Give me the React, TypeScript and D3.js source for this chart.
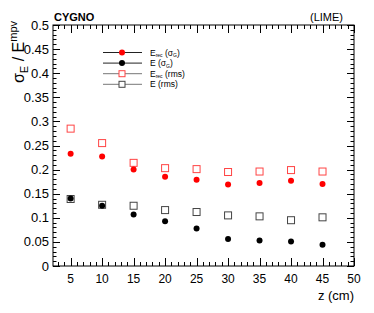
import * as d3 from "d3";
import React, { useEffect, useRef } from "react";

const W = 374;
const H = 313;
const M = { left: 53, right: 20, top: 25, bottom: 47 };

const zValues = [5, 10, 15, 20, 25, 30, 35, 40, 45];
const recGauss = [0.233, 0.227, 0.2, 0.185, 0.179, 0.169, 0.172, 0.177, 0.17];
const eGauss = [0.14, 0.125, 0.107, 0.093, 0.078, 0.056, 0.053, 0.051, 0.044];
const recRms = [0.285, 0.255, 0.214, 0.203, 0.201, 0.195, 0.196, 0.199, 0.196];
const eRms = [0.139, 0.127, 0.125, 0.116, 0.112, 0.105, 0.103, 0.095, 0.101];
const errGauss = [0.004, 0.003, 0.002, 0.002, 0.002, 0.002, 0.002, 0.002, 0.002];

const xTicks = [5, 10, 15, 20, 25, 30, 35, 40, 45, 50];
const yTicks = [0, 0.05, 0.1, 0.15, 0.2, 0.25, 0.3, 0.35, 0.4, 0.45, 0.5];

const FONT = "'Liberation Sans', Arial, sans-serif";

export default function App() {
    const ref = useRef<SVGSVGElement | null>(null);

    useEffect(() => {
        if (!ref.current) return;
        const svg = d3.select(ref.current);
        svg.selectAll("*").remove();

        const x = d3.scaleLinear().domain([2.2, 50]).range([M.left, W - M.right]);
        const y = d3.scaleLinear().domain([0, 0.5]).range([H - M.bottom, M.top]);
        const x0 = M.left, x1 = W - M.right, y0 = H - M.bottom, y1 = M.top;

        const g = svg.append("g").attr("font-family", FONT);

        /* ---------- frame ---------- */
        g.append("rect")
            .attr("x", x0).attr("y", y1)
            .attr("width", x1 - x0).attr("height", y0 - y1)
            .attr("fill", "none").attr("stroke", "#000");

        /* ---------- x ticks ---------- */
        d3.range(3, 51, 1).forEach((v) => {
            const major = v % 5 === 0;
            const len = major ? 8 : 4;
            const px = Math.round(x(v)) + 0.5;
            g.append("line").attr("x1", px).attr("x2", px).attr("y1", y0).attr("y2", y0 - len).attr("stroke", "#000");
            g.append("line").attr("x1", px).attr("x2", px).attr("y1", y1).attr("y2", y1 + len).attr("stroke", "#000");
        });
        xTicks.forEach((v) => {
            g.append("text").attr("x", x(v)).attr("y", y0 + 17)
                .attr("text-anchor", "middle").attr("font-size", "12px").text(String(v));
        });
        g.append("text").attr("x", x1).attr("y", y0 + 34)
            .attr("text-anchor", "end").attr("font-size", "13px").text("z (cm)");

        /* ---------- y ticks ---------- */
        d3.range(0, 51, 1).forEach((i) => {
            const v = i / 100;
            const major = i % 5 === 0;
            const len = major ? 7 : 3.5;
            const py = Math.round(y(v)) + 0.5;
            g.append("line").attr("x1", x0).attr("x2", x0 + len).attr("y1", py).attr("y2", py).attr("stroke", "#000");
            g.append("line").attr("x1", x1).attr("x2", x1 - len).attr("y1", py).attr("y2", py).attr("stroke", "#000");
        });
        yTicks.forEach((v) => {
            g.append("text").attr("x", x0 - 4).attr("y", y(v) + 4.5)
                .attr("text-anchor", "end").attr("font-size", "13px").text(String(v));
        });

        /* ---------- y title ---------- */
        const yt = g.append("text")
            .attr("transform", `translate(24,${y1 - 4}) rotate(-90)`)
            .attr("text-anchor", "end").attr("font-size", "16px");
        yt.append("tspan").text("σ");
        yt.append("tspan").attr("font-size", "11px").attr("dy", 4).text("E");
        yt.append("tspan").attr("dy", -4).text(" / E");
        yt.append("tspan").attr("font-size", "11px").attr("dy", -7).text("mpv");

        /* ---------- header ---------- */
        g.append("text").attr("x", 54).attr("y", 21).attr("font-weight", "bold")
            .attr("font-size", "11px").text("CYGNO");
        g.append("text").attr("x", x1 - 11).attr("y", 21).attr("text-anchor", "end")
            .attr("font-size", "11px").text("(LIME)");

        /* ---------- data ---------- */
        const dots = (vals: number[], color: string) => {
            zValues.forEach((z, i) => {
                g.append("line").attr("x1", x(z)).attr("x2", x(z))
                    .attr("y1", y(vals[i] - errGauss[i])).attr("y2", y(vals[i] + errGauss[i]))
                    .attr("stroke", color);
                g.append("circle").attr("cx", x(z)).attr("cy", y(vals[i])).attr("r", 3).attr("fill", color);
            });
        };
        const squares = (vals: number[], color: string) => {
            zValues.forEach((z, i) => {
                g.append("rect").attr("x", x(z) - 3.5).attr("y", y(vals[i]) - 3.5)
                    .attr("width", 7).attr("height", 7)
                    .attr("fill", "none").attr("stroke", color);
            });
        };
        squares(eRms, "#444");
        squares(recRms, "#f44");
        dots(recGauss, "#ff0000");
        dots(eGauss, "#000");

        /* ---------- legend ---------- */
        const legend = [
            { label: ["E", "rec", " (σ", "G", ")"], color: "#ff0000", line: "#222", type: "dot" },
            { label: ["E (σ", "", "", "G", ")"], color: "#000", line: "#222", type: "dot" },
            { label: ["E", "rec", " (rms)", "", ""], color: "#f44", line: "#777", type: "sq" },
            { label: ["E (rms)", "", "", "", ""], color: "#444", line: "#777", type: "sq" },
        ];
        legend.forEach((d, i) => {
            const ly = 52.5 + i * 10.6;
            g.append("line").attr("x1", 103).attr("x2", 142).attr("y1", ly).attr("y2", ly).attr("stroke", d.line);
            if (d.type === "dot") {
                g.append("circle").attr("cx", 122).attr("cy", ly).attr("r", 3).attr("fill", d.color);
            } else {
                g.append("rect").attr("x", 119).attr("y", ly - 3).attr("width", 6).attr("height", 6)
                    .attr("fill", "#fff").attr("stroke", d.color);
            }
            const t = g.append("text").attr("x", 150).attr("y", ly + 3).attr("font-size", "8.5px");
            t.append("tspan").text(d.label[0]);
            if (d.label[1]) t.append("tspan").attr("font-size", "5px").attr("dy", 1.5).text(d.label[1]);
            if (d.label[2]) t.append("tspan").attr("dy", d.label[1] ? -1.5 : 0).text(d.label[2]);
            if (d.label[3]) {
                t.append("tspan").attr("font-size", "5px").attr("dy", 1.5).text(d.label[3]);
                t.append("tspan").attr("dy", -1.5).text(d.label[4]);
            }
        });
    }, []);

    return <svg ref={ref} width={W} height={H} style={{ position: "absolute", left: 0, top: 0 }} />;
}
